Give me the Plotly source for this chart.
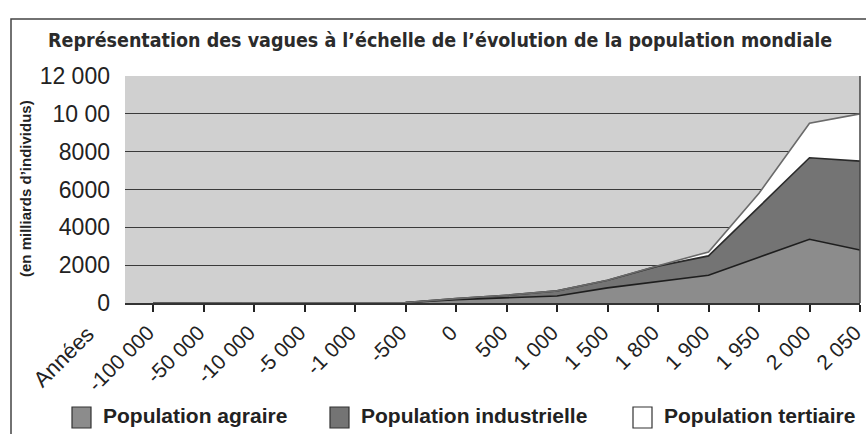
import plotly.graph_objects as go

# ---- data ----
years = ["-100 000", "-50 000", "-10 000", "-5 000", "-1 000", "-500", "0", "500",
         "1 000", "1 500", "1 800", "1 900", "1 950", "2 000", "2 050"]
agraire = [0, 0, 0, 0, 0, 20, 180, 280, 370, 800, 1150, 1470, 2420, 3370, 2800]
industrielle = [0, 0, 0, 0, 0, 0, 50, 130, 270, 400, 800, 1020, 2660, 4310, 4700]
tertiaire = [0, 0, 0, 0, 0, 0, 0, 0, 0, 0, 20, 210, 720, 1820, 2500]
y_ticks = [0, 2000, 4000, 6000, 8000, 10000, 12000]
y_ticktext = ["0", "2000", "4000", "6000", "8000", "10 00", "12 000"]
series_names = ["Population agraire", "Population industrielle", "Population tertiaire"]

W, H = 866, 434
L, R, T, B = 125, 6, 76, 131
PW, PH = W - L - R, H - T - B

def px(x):
    return (x - L) / PW

def py(y):
    return (H - B - y) / PH

idx = list(range(len(years)))
FONT = "Liberation Sans, Arial, sans-serif"

fig = go.Figure()
fills = ["#8c8c8c", "#747474", "#ffffff"]
lines = ["#1e1e1e", "#2a2a2a", "#6a6a6a"]
for name, vals, fc, lc in zip(series_names, [agraire, industrielle, tertiaire], fills, lines):
    fig.add_trace(go.Scatter(
        x=idx, y=vals, name=name, mode="lines", stackgroup="one",
        fillcolor=fc, line=dict(color=lc, width=1.6), showlegend=False,
    ))

shapes = [
    # outer frame
    dict(type="rect", xref="paper", yref="paper", x0=px(11), x1=px(872), y0=py(19), y1=py(440),
         line=dict(color="#444", width=1.5), layer="above"),
    # right border of plot
    dict(type="line", xref="paper", yref="paper", x0=1, x1=1, y0=0, y1=1,
         line=dict(color="#444", width=1.5)),
]

annotations = [
    dict(text="<b>Représentation des vagues à l’échelle de l’évolution de la population mondiale</b>",
         xref="paper", yref="paper", x=px(440), y=py(40), xanchor="center", yanchor="middle",
         showarrow=False, font=dict(family="DejaVu Sans Condensed, Liberation Sans Narrow, sans-serif",
                                    size=19.5, color="#2b2b2b")),
    dict(text="<b>(en milliards d’individus)</b>", xref="paper", yref="paper",
         x=px(25), y=py(188), textangle=-90, showarrow=False, xanchor="center", yanchor="middle",
         font=dict(family=FONT, size=15, color="#222")),
    dict(text="Années", xref="paper", yref="paper", x=px(102), y=py(318), textangle=-45,
         showarrow=False, xanchor="right", yanchor="top",
         font=dict(family=FONT, size=22, color="#222")),
]

# manual legend
leg_boxes = [(72, 91), (330, 349), (633, 652)]
for (x0, x1), fc, name in zip(leg_boxes, fills, series_names):
    shapes.append(dict(type="rect", xref="paper", yref="paper", x0=px(x0), x1=px(x1),
                       y0=py(428), y1=py(407), fillcolor=fc, line=dict(color="#333", width=1.2)))
    annotations.append(dict(text="<b>" + name + "</b>", xref="paper", yref="paper",
                            x=px(x1 + 10), y=py(415), xanchor="left", yanchor="middle",
                            showarrow=False, font=dict(family=FONT, size=21, color="#222")))

fig.update_layout(
    width=W, height=H,
    margin=dict(l=L, r=R, t=T, b=B, autoexpand=False),
    paper_bgcolor="white", plot_bgcolor="#d0d0d0",
    shapes=shapes, annotations=annotations,
    xaxis=dict(range=[-0.555, 14], tickmode="array", tickvals=idx, ticktext=years,
               tickangle=-45, ticks="outside", ticklen=7, tickwidth=1.5, tickcolor="#222",
               ticklabeloverflow="allow", automargin=False, ticklabelshift=-5,
               showgrid=False, zeroline=False, showline=True, linecolor="#333", linewidth=2,
               tickfont=dict(family=FONT, size=21, color="#222")),
    yaxis=dict(range=[0, 12000], tickmode="array", tickvals=y_ticks, ticktext=y_ticktext,
               showgrid=True, gridcolor="#3a3a3a", gridwidth=1.3, zeroline=False,
               ticks="", ticklabelstandoff=14, automargin=False,
               tickfont=dict(family=FONT, size=23, color="#222")),
)

fig.write_html("out.html", post_script="document.body.style.margin='0px';",
               config={"displayModeBar": False})
